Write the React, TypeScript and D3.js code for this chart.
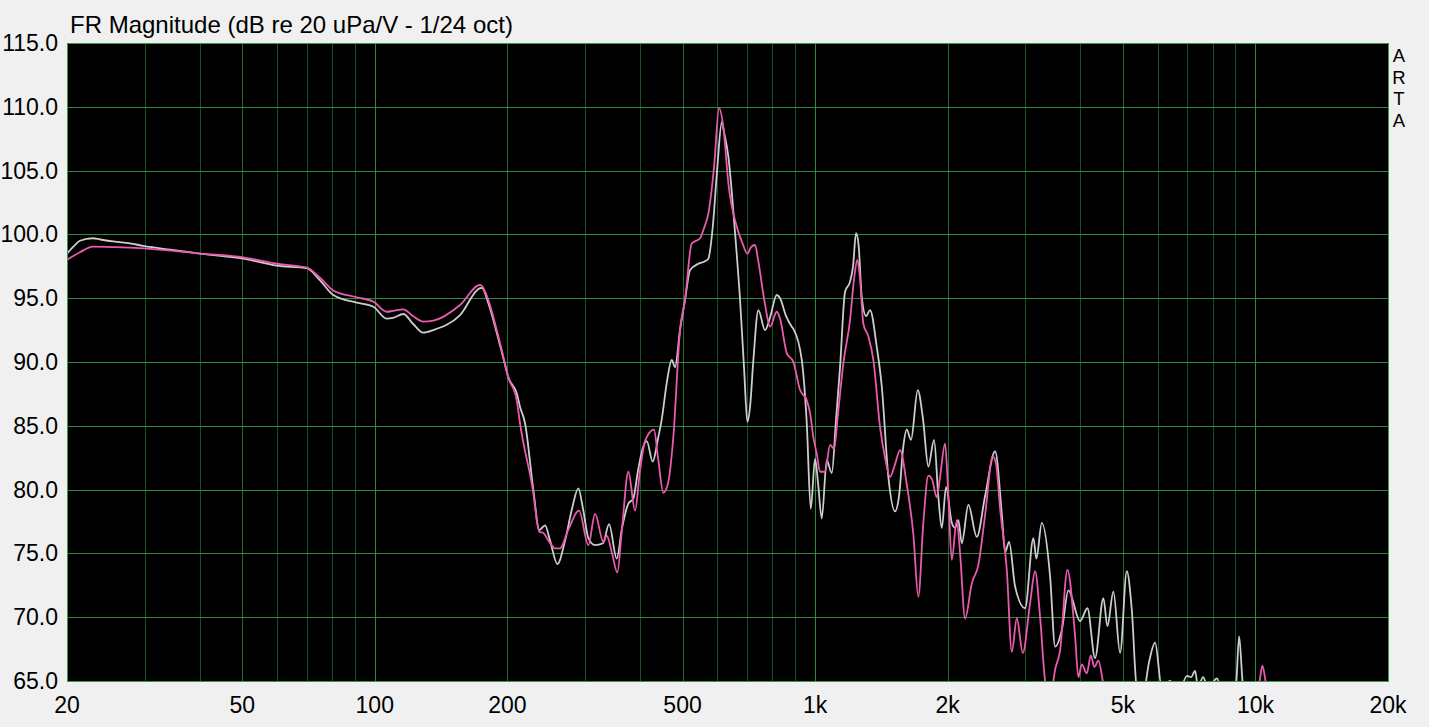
import React from 'react';
import * as d3 from 'd3';

const title = 'FR Magnitude (dB re 20 uPa/V - 1/24 oct)';
const sideLetters = ['A', 'R', 'T', 'A'];

const yTicks = [65, 70, 75, 80, 85, 90, 95, 100, 105, 110, 115];
const xTickValues = [20, 50, 100, 200, 500, 1000, 2000, 5000, 10000, 20000];
const xTickLabels = ['20', '50', '100', '200', '500', '1k', '2k', '5k', '10k', '20k'];
const decadeLines = [100, 1000, 10000];
const midLines = [50, 200, 500, 2000, 5000];
const minorLines = [30, 40, 60, 70, 80, 90, 300, 400, 600, 700, 800, 900, 3000, 4000, 6000, 7000, 8000, 9000];

const grayFreq = [20, 20.9, 21.4, 22.9, 23.8, 25.7, 27.8, 29.8, 34.3, 40.1, 50.3, 59.9, 70.1, 75.1, 80.5, 91.0, 99.3, 106.4, 110, 116.1, 122.1, 128.9, 135.8, 156.2, 173.4, 175.2, 181.1, 189.2, 195.9, 201.0, 210.1, 213.7, 219.4, 229.1, 236.4, 243.6, 250.1, 259.8, 270.5, 280.5, 289.9, 297.1, 305.5, 316.4, 329.9, 340.4, 354.4, 364.4, 376.6, 386.5, 396.1, 407.3, 414.6, 427.8, 439.8, 448.4, 461.0, 472.5, 480.7, 493.4, 506.5, 520.0, 543.1, 562.5, 572.3, 585.6, 599.8, 613.8, 621.2, 635.3, 658.0, 675.4, 689.7, 701.7, 711.7, 724.1, 743.2, 769.7, 790.1, 818.3, 832.5, 859.1, 885.1, 892.5, 932.6, 957.3, 977.5, 999.7, 1015.5, 1035.4, 1062.8, 1090.9, 1115.7, 1139.3, 1169.5, 1200.5, 1219.4, 1238.7, 1255.1, 1276.2, 1305.3, 1332.8, 1380.3, 1416.9, 1466.7, 1519, 1551, 1586.3, 1614.7, 1651.4, 1710.3, 1758.4, 1807.8, 1862.4, 1905.2, 1939.4, 1983.4, 2043.4, 2079, 2115.2, 2153.2, 2228.8, 2329, 2432.4, 2563, 2654.4, 2700.6, 2757.6, 2845.6, 2998, 3131, 3181, 3272, 3417, 3508, 3633, 3760, 3997, 4153, 4323, 4515, 4611, 4758, 4927, 5103, 5238, 5377, 5557, 5734, 5917, 6128, 6399, 6673, 6994, 7142, 7293, 7408, 7605, 7805, 8182, 8399, 8850, 9038, 9181, 9360, 9624];
const grayDb = [98.5, 99.2, 99.5, 99.7, 99.6, 99.43, 99.3, 99.1, 98.8, 98.5, 98.1, 97.55, 97.35, 96.4, 95.25, 94.65, 94.33, 93.4, 93.45, 93.76, 93.0, 92.3, 92.5, 93.68, 95.78, 95.8, 94.6, 92.3, 90.3, 88.8, 87.55, 86.5, 85.2, 80.0, 76.83, 77.2, 76.0, 74.17, 76.0, 78.5, 80.1, 78.5, 76.2, 75.65, 75.8, 77.3, 74.6, 77.0, 78.9, 79.3, 81.5, 83.4, 83.8, 82.2, 84.0, 85.5, 88.5, 90.16, 89.6, 92.5, 94.86, 97.2, 97.7, 97.9, 98.1, 100.6, 105.3, 108.8, 108.0, 106.1, 100.1, 94.86, 89.5, 85.3, 86.5, 90.16, 94.07, 92.5, 93.5, 95.25, 95.0, 93.6, 92.77, 92.6, 90.16, 85.2, 78.5, 82.4, 80.5, 77.75, 82.3, 81.3, 85.5, 89.6, 95.5, 96.3, 97.5, 100.1, 99.2, 95.1, 93.6, 94.07, 91.2, 88.1, 81.0, 78.3, 79.5, 83.4, 84.7, 83.9, 87.8, 85.5, 81.8, 83.9, 79.4, 77.0, 80.2, 77.4, 77.0, 77.6, 75.8, 78.8, 76.3, 79.5, 83.0, 78.1, 75.1, 75.9, 72.4, 70.7, 76.2, 74.6, 77.4, 73.2, 67.7, 69.0, 72.1, 69.7, 70.7, 66.8, 71.5, 69.3, 72.0, 67.2, 73.6, 70.6, 64.5, 64.0, 66.5, 68.0, 64.5, 65.0, 64.0, 65.4, 65.3, 65.8, 64.5, 65.3, 64.5, 65.2, 64.0, 64.0, 64.8, 68.5, 64.8, 63.5];

const pinkFreq = [20, 21.4, 22.9, 25.7, 29.8, 40.1, 50.3, 59.9, 70.1, 75.1, 80.5, 91.0, 99.3, 106.4, 110, 116.1, 122.1, 128.9, 135.8, 156.2, 173.4, 181.1, 189.2, 195.9, 201.0, 210.1, 213.7, 228.5, 236.4, 241.4, 250.1, 256.7, 263.5, 274.7, 291, 305.5, 316.4, 330.4, 336.3, 345.8, 355.5, 364.4, 376.6, 390, 400.3, 410.9, 430.7, 439.8, 452.2, 463.4, 476.4, 493.4, 506.5, 524.6, 547.9, 559.5, 572.3, 589.6, 605.2, 618.9, 635.3, 663.9, 682.5, 701.7, 715.4, 730.5, 742.1, 769.7, 790.1, 818.3, 832.5, 862.2, 892.5, 924.4, 957.3, 973.9, 990.9, 1008.7, 1026.2, 1053.4, 1081.3, 1104.1, 1127.5, 1159.1, 1200.5, 1225.8, 1247.2, 1264.9, 1286.9, 1321, 1356, 1404.4, 1441.6, 1479.8, 1519, 1559.2, 1614.7, 1671.4, 1715.6, 1761.2, 1807.8, 1843, 1889.2, 1922.2, 1973, 2004.3, 2043.4, 2097.6, 2134.2, 2190.8, 2269, 2348.4, 2432.4, 2532.4, 2576.4, 2630.8, 2724.6, 2797, 2871, 2962.4, 3077.4, 3159.4, 3243, 3329, 3417, 3508, 3600.6, 3740.8, 3894.4, 3962.2, 4033.2, 4140, 4227.6, 4307.8, 4398.8, 4501.2, 4579.4, 9982, 10210, 10370, 10556, 10796];
const pinkDb = [98.0, 98.6, 99.04, 99.0, 98.9, 98.5, 98.2, 97.7, 97.4, 96.6, 95.6, 95.07, 94.73, 93.94, 94.0, 94.13, 93.6, 93.16, 93.24, 94.47, 96.04, 94.85, 92.5, 90.4, 88.8, 87.0, 85.2, 80.0, 76.7, 76.6, 75.8, 75.4, 75.4, 76.8, 78.35, 75.65, 78.1, 75.9, 76.4, 75.0, 73.5, 77.0, 81.4, 78.35, 81.5, 83.8, 84.7, 82.5, 79.75, 80.5, 84.1, 92.5, 94.86, 99.3, 99.7, 100.5, 101.65, 105.3, 109.9, 108.4, 104.0, 100.6, 99.4, 98.5, 99.0, 99.17, 98.0, 94.5, 92.77, 93.94, 93.4, 90.7, 90.0, 87.8, 87.0, 86.0, 84.1, 82.8, 81.4, 81.4, 83.5, 83.2, 86.0, 89.9, 93.3, 96.5, 98.0, 96.5, 93.0, 92.0, 90.16, 84.9, 82.5, 81.0, 82.0, 83.1, 80.4, 76.5, 71.6, 77.4, 81.1, 80.8, 79.4, 81.0, 83.6, 80.0, 74.5, 77.6, 75.0, 69.9, 72.65, 74.1, 78.0, 82.6, 82.0, 78.5, 73.7, 67.3, 69.9, 67.2, 71.1, 73.6, 70.0, 65.0, 63.5, 65.9, 67.4, 73.7, 68.5, 65.3, 66.3, 65.6, 67.0, 66.1, 66.6, 65.0, 63.5, 63.5, 64.9, 66.2, 64.9, 63.5];

const W = 1429;
const H = 727;
const plot = { left: 67, right: 1388, top: 43, bottom: 681 };

export default function App() {
  const x = d3.scaleLog().domain([20, 20000]).range([plot.left, plot.right]);
  const y = d3.scaleLinear().domain([65, 115]).range([plot.bottom, plot.top]);

  const line = d3
    .line<[number, number]>()
    .x((d) => x(d[0]))
    .y((d) => y(d[1]))
    .curve(d3.curveMonotoneX);

  const grayPts: [number, number][] = grayFreq.map((f, i) => [f, grayDb[i]]);
  const pinkPts: [number, number][] = pinkFreq.map((f, i) => [f, pinkDb[i]]);

  const font = '"Liberation Sans", Arial, sans-serif';
  const px = (v: number) => Math.round(v) + 0.5;

  return (
    <svg width={W} height={H} style={{ position: 'absolute', left: 0, top: 0 }} fontFamily={font}>
      <rect x={0} y={0} width={W} height={H} fill="#f0f0f0" />
      <defs>
        <clipPath id="plotClip">
          <rect x={plot.left} y={plot.top} width={plot.right - plot.left} height={plot.bottom - plot.top} />
        </clipPath>
      </defs>
      <rect x={plot.left} y={plot.top} width={plot.right - plot.left} height={plot.bottom - plot.top} fill="#000" />
      <g shapeRendering="crispEdges">
        {minorLines.map((f) => (
          <line key={'mi' + f} x1={px(x(f))} x2={px(x(f))} y1={plot.top} y2={plot.bottom} stroke="#1a4f23" strokeWidth={1} />
        ))}
        {midLines.map((f) => (
          <line key={'md' + f} x1={px(x(f))} x2={px(x(f))} y1={plot.top} y2={plot.bottom} stroke="#22692e" strokeWidth={1} />
        ))}
        {decadeLines.map((f) => (
          <line key={'dc' + f} x1={px(x(f))} x2={px(x(f))} y1={plot.top} y2={plot.bottom} stroke="#2b8a3c" strokeWidth={1} />
        ))}
        {yTicks.map((v) => (
          <line key={'h' + v} x1={plot.left} x2={plot.right} y1={px(y(v))} y2={px(y(v))} stroke="#2b8a3c" strokeWidth={1} />
        ))}
      </g>
      <g clipPath="url(#plotClip)">
        <path d={line(grayPts) || ''} fill="none" stroke="#cdcdcd" strokeWidth={1.8} strokeLinejoin="round" />
        <path d={line(pinkPts) || ''} fill="none" stroke="#ea5aae" strokeWidth={1.8} strokeLinejoin="round" />
      </g>
      <rect x={plot.left + 0.5} y={plot.top + 0.5} width={plot.right - plot.left} height={plot.bottom - plot.top} fill="none" stroke="#3a9a4a" strokeWidth={1} shapeRendering="crispEdges" />
      <text x={70} y={33} fontSize={24} fill="#000">{title}</text>
      {yTicks.map((v) => (
        <text key={'yl' + v} x={58} y={y(v) + 8} fontSize={23} textAnchor="end" fill="#000">
          {v.toFixed(1)}
        </text>
      ))}
      {xTickValues.map((f, i) => (
        <text key={'xl' + f} x={x(f)} y={713} fontSize={23} textAnchor="middle" fill="#000">
          {xTickLabels[i]}
        </text>
      ))}
      {sideLetters.map((c, i) => (
        <text key={'s' + i} x={1399} y={62 + i * 21.7} fontSize={18.5} textAnchor="middle" fill="#000">
          {c}
        </text>
      ))}
    </svg>
  );
}
